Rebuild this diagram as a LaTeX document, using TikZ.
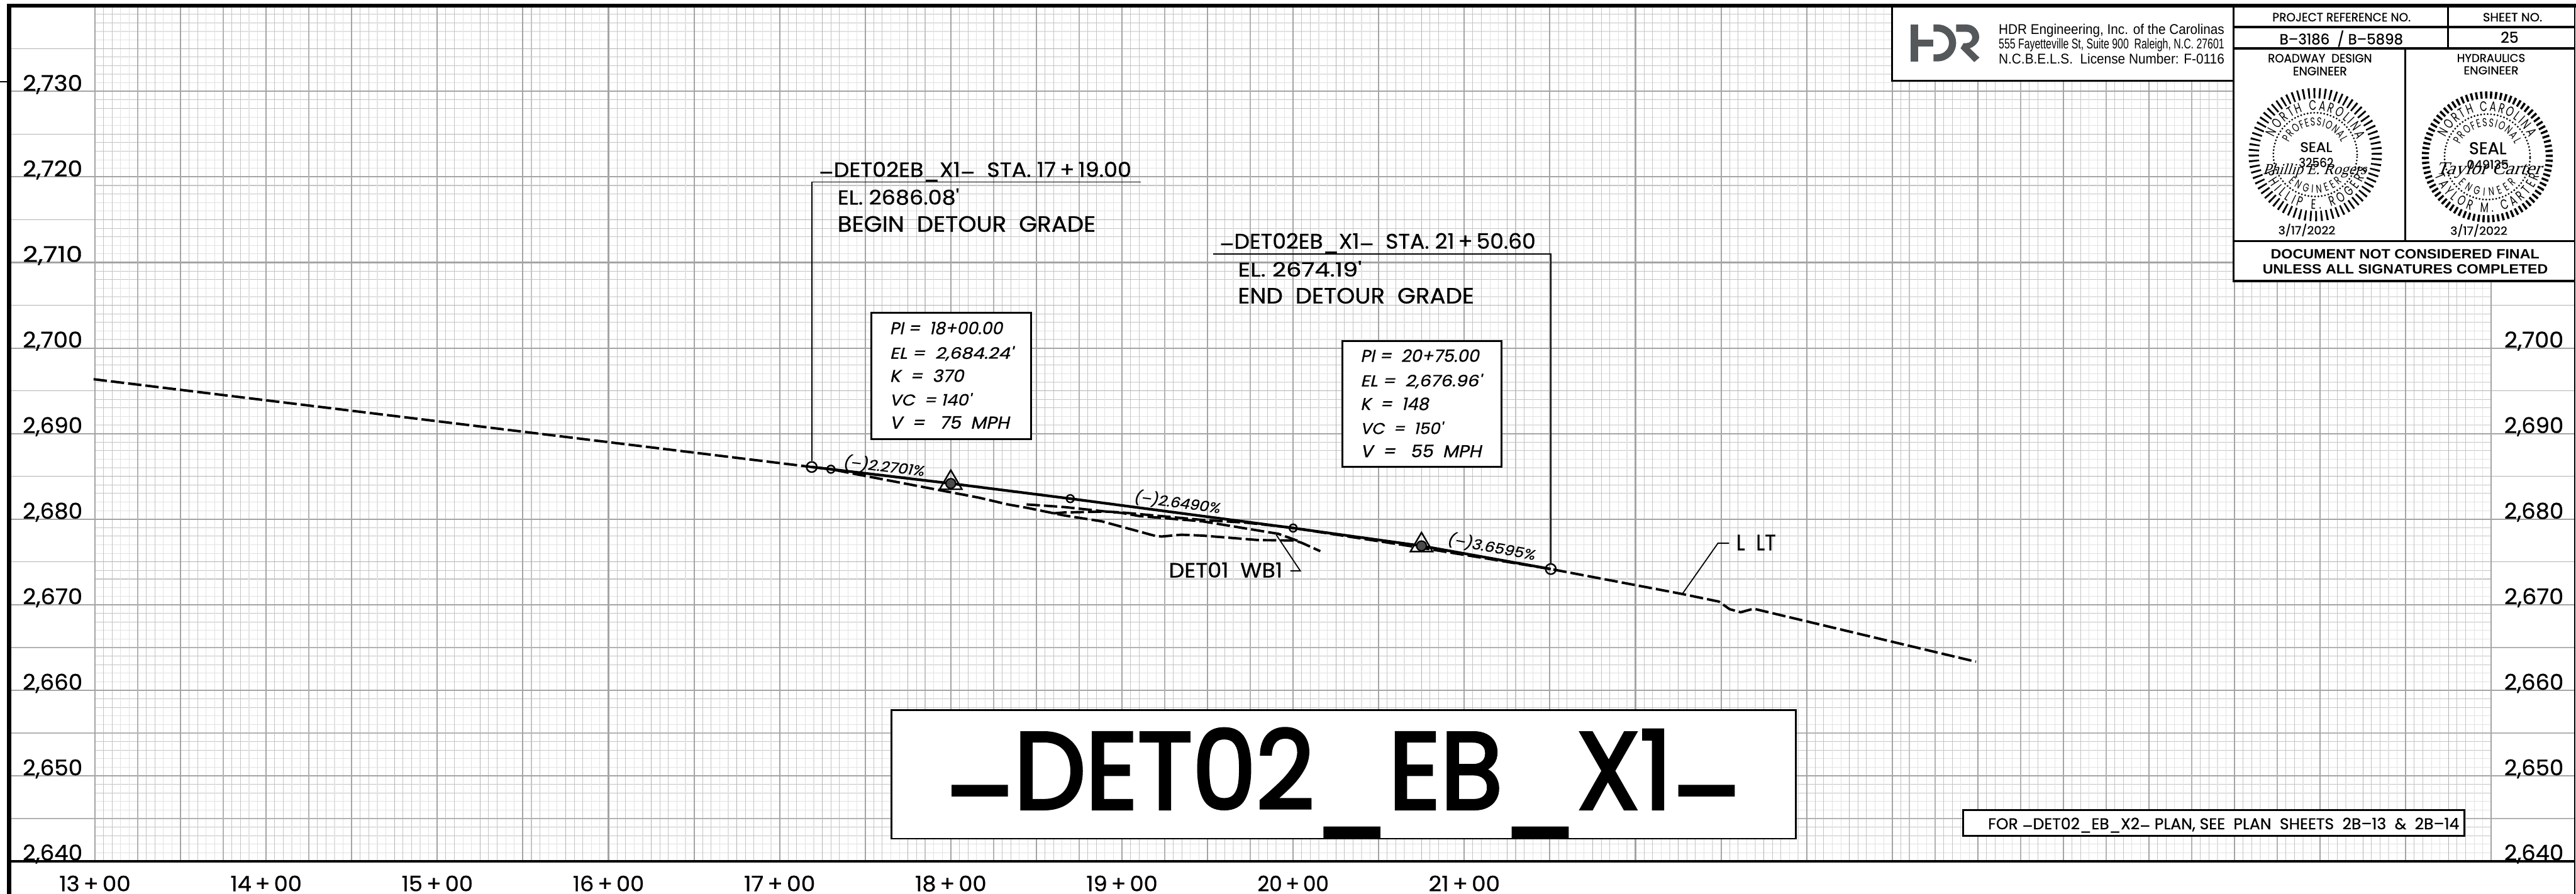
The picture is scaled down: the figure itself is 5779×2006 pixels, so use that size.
\documentclass[tikz,border=0pt]{standalone}
\usepackage{fontspec}
\usepackage{graphicx}
\usetikzlibrary{decorations.text}
\newfontfamily\pop[FakeBold=0.7]{Poppins}
\newfontfamily\popt[FakeBold=3]{Poppins}
\newfontfamily\popn[FakeStretch=0.7]{Poppins}
\newfontfamily\pit[FakeSlant=0.2,FakeBold=0.7]{Poppins}
\newfontfamily\ls{Liberation Sans}
\newfontfamily\sg[FakeSlant=0.35]{Liberation Serif}
\newdimen\pxu \pxu=0.1mm
\newcommand\Tt[3]{\resizebox{#1\pxu}{#2\pxu}{\pop #3}}
\newcommand\Ti[3]{\resizebox{#1\pxu}{#2\pxu}{\pit #3}}
\newcommand\Tl[3]{\resizebox{#1\pxu}{#2\pxu}{\ls #3}}
\newcommand\Tb[3]{\resizebox{#1\pxu}{#2\pxu}{\ls\bfseries #3}}
\newcommand\Ts[3]{\resizebox{#1\pxu}{#2\pxu}{\sg #3}}
\newcommand\Tm[3]{\resizebox{#1\pxu}{#2\pxu}{\popt #3}}
\newcommand\dsh{\raisebox{-.16em}{–}}
\newcommand\usc{\raisebox{-.1em}{\_}}
\definecolor{gmaj}{HTML}{A4A4A4}
\definecolor{gmed}{HTML}{B2B2B2}
\definecolor{gmid}{HTML}{C4C4C4}
\definecolor{glight}{HTML}{E2E2E2}
\definecolor{logo}{HTML}{55585A}
\tikzset{
  tx/.style={anchor=base west,inner sep=0pt,outer sep=0pt},
  tc/.style={anchor=center,inner sep=0pt,outer sep=0pt},
  lmin/.style={color=glight,line width=.17mm},
  mmin/.style={color=gmid,line width=.15mm},
  mmed/.style={color=gmed,line width=.2mm},
  mmaj/.style={color=gmaj,line width=.3mm},
  frame/.style={line width=.4mm,draw=black,fill=white},
  lead/.style={line width=.25mm,draw=black},
  grade/.style={line width=.6mm,draw=black},
  ground/.style={line width=.55mm,draw=black,dash pattern=on 3mm off .9mm},
  ringa/.style={circle,draw=black,line width=.35mm,inner sep=0pt,minimum size=2.3mm},
  ringb/.style={circle,draw=black,line width=.35mm,inner sep=0pt,minimum size=1.7mm},
  panel/.style={line width=.5mm,draw=black},
  sealtxt/.style={decorate,decoration={text along path,text={#1},text align={fit to path}}},
}
\newcommand\SF{\popn\fontsize{3.1mm}{3.6mm}\selectfont}
\newcommand\SG{\popn\fontsize{2.6mm}{3.2mm}\selectfont}
\begin{document}
\begin{tikzpicture}[x=.1mm,y=.1mm]
\useasboundingbox (0,0) rectangle (5779,-2006);
\fill[white] (0,0) rectangle (5779,-2006);
% grid: minor
\foreach \m in {1,...,99}{
  \pgfmathtruncatemacro\r{mod(\m,5)}
  \pgfmathsetmacro\yy{-(13+19.2*\m)}
  \ifnum\r=1 \draw[mmin] (213,\yy) -- (5589,\yy);\fi
  \ifnum\r=2 \draw[mmin] (213,\yy) -- (5589,\yy);\fi
  \ifnum\r=3 \draw[lmin] (213,\yy) -- (5589,\yy);\fi
  \ifnum\r=4 \draw[lmin] (213,\yy) -- (5589,\yy);\fi
}
\foreach \n in {1,...,279}{
  \pgfmathtruncatemacro\r{mod(\n,5)}
  \pgfmathsetmacro\xx{213+19.2*\n}
  \ifnum\r=1 \draw[mmin] (\xx,-17) -- (\xx,-1932);\fi
  \ifnum\r=2 \draw[mmin] (\xx,-17) -- (\xx,-1932);\fi
  \ifnum\r=3 \draw[lmin] (\xx,-17) -- (\xx,-1932);\fi
  \ifnum\r=4 \draw[lmin] (\xx,-17) -- (\xx,-1932);\fi
}
% grid: major
\foreach \m in {1,...,19}{
  \pgfmathsetmacro\yy{-(13+96*\m)}
  \pgfmathtruncatemacro\r{mod(\m,2)}
  \ifnum\r=0 \draw[mmaj] (26,\yy) -- (5776,\yy);\else \draw[mmed] (26,\yy) -- (5776,\yy);\fi
}
\foreach \n in {0,...,56}{
  \pgfmathsetmacro\xx{213+96*\n}
  \pgfmathtruncatemacro\r{mod(\n,2)}
  \ifnum\r=0 \draw[mmaj] (\xx,-17) -- (\xx,-1932);\else \draw[mmed] (\xx,-17) -- (\xx,-1932);\fi
}
% sheet frame
\fill[black] (16,-8) rectangle (5779,-17);
\fill[black] (16,-8) rectangle (26,-2006);
\fill[black] (16,-1930) rectangle (5776,-1935);
\fill[black] (5775,-8) rectangle (5778,-2006);
\fill[black] (0,-181.5) rectangle (16,-184.5);
% elevation labels
\foreach \v/\y in {730/204,720/396,710/588,700/780,690/972,680/1164,670/1356,660/1548,650/1740,640/1931}{
  \node[tx] (left\v) at (51,-\y) {\Tt{134}{36}{2,\v}};
}
\foreach \v/\y in {700/780,690/972,680/1164,670/1356,660/1548,650/1740,640/1931}{
  \node[tx] (right\v) at (5618,-\y) {\Tt{133}{36}{2,\v}};
}
% station labels
\foreach \s/\x in {13/213,14/597,15/981,16/1365,17/1749,18/2133,19/2517,20/2901,21/3285}{
  \node[anchor=base,inner sep=0pt] (sta\s) at (\x,-2000) {\Tt{160}{35}{\s\,+\,00}};
}
% named points
\coordinate (bvc) at (1821,-1048);
\coordinate (pc) at (1864,-1053);
\coordinate (pvione) at (2133,-1085);
\coordinate (cpa) at (2401,-1119);
\coordinate (cpb) at (2901,-1185);
\coordinate (pvitwo) at (3189,-1225);
\coordinate (evc) at (3479,-1277);
\coordinate (gstart) at (210,-851);
\coordinate (gend) at (4433,-1485);
\coordinate (ltfoot) at (3774,-1333);
\coordinate (wbfoot) at (2863,-1200);
% ground lines
\draw[ground] (2303,-1132) -- (2389,-1138) -- (2481,-1148) -- (2516,-1151) -- (2555,-1158) -- (2698,-1170) -- (2868,-1198) -- (2912,-1214);
\draw[ground] (gstart) -- (bvc) -- (pc) -- (1930,-1066) -- (2108,-1100) -- (2197,-1117) -- (2261,-1132) -- (2306,-1140) -- (2389,-1157) -- (2472,-1170) -- (2593,-1203) -- (2606,-1204) -- (2650,-1200) -- (2698,-1202) -- (2823,-1212) -- (2904,-1213) -- (2920,-1218) -- (2962,-1237);
\draw[ground] (2363,-1152) -- (2388,-1150) -- (2481,-1148) -- (2516,-1150) -- (2700,-1167) -- (2796,-1173) -- (2895,-1184) -- (3180,-1228) -- (evc) -- (ltfoot) -- (3856,-1350) -- (3880,-1367) -- (3905,-1374) -- (3934,-1366) -- (gend);
% proposed grade
\draw[grade] (bvc) -- (pc) -- (pvione) -- (cpa) -- (cpb) -- (pvitwo) -- (evc);
% point markers
\node[ringa] (mbvc) at (bvc) {};
\node[ringb] (mpc) at (pc) {};
\node[ringb] (mcpa) at (cpa) {};
\node[ringb] (mcpb) at (cpb) {};
\node[ringa] (mevc) at (evc) {};
\foreach \p/\nm in {pvione/a,pvitwo/b}{
  \node[circle,draw=black,line width=.3mm,inner sep=0pt,minimum size=2.2mm,fill=black!70] (bull\nm) at (\p) {};
}
\draw[line width=.35mm] (2133,-1055) -- (2108,-1098) -- (2158,-1098) -- cycle;
\draw[line width=.35mm] (3189,-1195) -- (3164,-1238) -- (3214,-1238) -- cycle;
% grade labels
\node[tc,rotate=-6.5] (gra) at (1982,-1046) {\Ti{183}{30}{(–)2.2701\%}};
\node[tc,rotate=-7.5] (grb) at (2640,-1127) {\Ti{195}{30}{(–)2.6490\%}};
\node[tc,rotate=-10.4] (grc) at (3345,-1227) {\Ti{200}{30}{(–)3.6595\%}};
% callout 1
\coordinate (caa) at (1821,-408.5);
\coordinate (cab) at (2560,-408.5);
\draw[lead] (mbvc) -- (caa) -- (cab);
\node[tx] (ca1) at (1837,-397) {\Tt{701}{34}{\dsh DET02EB\usc X1\dsh\ \ STA. 17\,+\,19.00}};
\node[tx] (ca2) at (1879,-459) {\Tt{273}{36}{EL. 2686.08'}};
\node[tx] (ca3) at (1879,-520) {\Tt{579}{35}{BEGIN\ \ DETOUR\ \ GRADE}};
% callout 2
\coordinate (cba) at (2721,-570.5);
\coordinate (cbb) at (3479,-570.5);
\draw[lead] (mevc) -- (cbb) -- (cba);
\node[tx] (cb1) at (2736,-558) {\Tt{709}{35}{\dsh DET02EB\usc X1\dsh\ \ STA. 21\,+\,50.60}};
\node[tx] (cb2) at (2777,-620.5) {\Tt{278}{35}{EL. 2674.19'}};
\node[tx] (cb3) at (2777,-681) {\Tt{530}{35}{END\ \ DETOUR\ \ GRADE}};
% PI boxes
\draw[frame] (1955,-702) rectangle (2313,-985);
\node[tx] (pa1) at (1996,-750) {\Ti{253}{28}{PI =\ \ 18+00.00}};
\node[tx] (pa2) at (1996,-805) {\Ti{276}{28}{EL =\ \ 2,684.24'}};
\node[tx] (pa3) at (1996,-857) {\Ti{166}{28}{K\ \ =\ \ 370}};
\node[tx] (pa4) at (1996,-910) {\Ti{182}{28}{VC\ \ =\ 140'}};
\node[tx] (pa5) at (1996,-962) {\Ti{268}{28}{V\ \ =\ \ \ 75\ \ MPH}};
\draw[frame] (3011,-765) rectangle (3369,-1047);
\node[tx] (pb1) at (3052,-812) {\Ti{266}{28}{PI =\ \ 20+75.00}};
\node[tx] (pb2) at (3052,-867) {\Ti{271}{28}{EL =\ \ 2,676.96'}};
\node[tx] (pb3) at (3052,-920) {\Ti{153}{28}{K\ \ =\ \ 148}};
\node[tx] (pb4) at (3052,-974) {\Ti{184}{28}{VC\ \ =\ \ 150'}};
\node[tx] (pb5) at (3052,-1026) {\Ti{271}{28}{V\ \ =\ \ \ 55\ \ MPH}};
% leaders
\node[tx] (wb) at (2622,-1296) {\Tt{255}{34}{DET01\ \ WB1}};
\coordinate (wbk) at (2895,-1281);
\coordinate (wbe) at (2917,-1281);
\draw[lead] (wbfoot) -- (wbe) -- (wbk);
\node[tx] (lt) at (3895,-1235) {\Tt{89}{35}{L\ \ LT}};
\coordinate (ltk) at (3854,-1219);
\coordinate (lte) at (3879,-1219);
\draw[lead] (ltfoot) -- (ltk) -- (lte);
% main title
\draw[frame] (2000,-1594) rectangle (4029,-1882);
\node[tx] (title) at (2121,-1815) {\Tm{1784}{180}{\raisebox{-.2em}{–}DET02\raisebox{-.14em}{\_}EB\raisebox{-.14em}{\_}X1\raisebox{-.2em}{–}}};
% note
\draw[frame] (4404,-1818) rectangle (5529,-1876);
\node[tx] (note) at (4460,-1861) {\Tt{1057}{26}{FOR \dsh DET02\usc EB\usc X2\dsh\ PLAN, SEE\ \ PLAN\ \ SHEETS\ \ 2B–13\ \ \&\ \ 2B–14}};
% HDR block
\draw[frame] (4245,-15) rectangle (5011,-181);
\fill[logo] (4286,-55) rectangle (4302.7,-137.7);
\fill[logo] (4302,-88.3) rectangle (4337.7,-104.3);
\fill[logo] (4337.7,-55) -- (4347,-55) .. controls (4369.8,-55) and (4388.3,-73.5) .. (4388.3,-96.3) .. controls (4388.3,-119.1) and (4369.8,-137.7) .. (4347,-137.7) -- (4337.7,-137.7) -- (4337.7,-121.7) -- (4347,-121.7) .. controls (4361,-121.7) and (4372.3,-110.3) .. (4372.3,-96.3) .. controls (4372.3,-82.3) and (4361,-71) .. (4347,-71) -- (4337.7,-71) -- cycle;
\fill[logo] (4388.3,-55) -- (4411.7,-55) .. controls (4427.3,-55) and (4440,-67.7) .. (4440,-83.3) .. controls (4440,-94) and (4431,-104) .. (4419,-108.3) -- (4440.7,-129.3) -- (4429,-139.3) -- (4398.3,-108.3) -- (4405,-96.7) -- (4411.7,-96.7) .. controls (4418.7,-96.7) and (4424.4,-91) .. (4424.4,-84) .. controls (4424.4,-77) and (4418.7,-71.3) .. (4411.7,-71.3) -- (4388.3,-71.3) -- cycle;
\node[tx] (hd1) at (4484,-77) {\Tl{506}{23}{HDR Engineering, Inc. of the Carolinas}};
\node[tx] (hd2) at (4484,-110) {\Tl{506}{23}{555 Fayetteville St, Suite 900\ \ Raleigh, N.C. 27601}};
\node[tx] (hd3) at (4484,-143) {\Tl{506}{23}{N.C.B.E.L.S.\ \ License Number: F-0116}};
% title panel
\fill[white] (5011,-17) rectangle (5775,-631);
\draw[panel] (5011,-15) -- (5011,-633);
\draw[panel] (5011,-61) -- (5776,-61);
\draw[panel] (5011,-109) -- (5776,-109);
\draw[panel] (5492,-17) -- (5492,-109);
\draw[panel] (5396,-109) -- (5396,-541);
\draw[panel] (5011,-541) -- (5776,-541);
\draw[panel] (5011,-631) -- (5776,-631);
\node[tx] (pr1) at (5098,-48) {\Tt{310}{19}{PROJECT\ REFERENCE\ NO.}};
\node[tx] (pr2) at (5570,-48) {\Tt{133}{19}{SHEET\ NO.}};
\node[tx] (pr3) at (5114,-99.5) {\Tt{277}{31}{B–3186\ \ /\ B–5898}};
\node[tx] (pr4) at (5610,-96) {\Tt{40}{25}{25}};
\node[tx] (en1) at (5088,-140) {\Tt{233}{19}{ROADWAY\ \ DESIGN}};
\node[tx] (en2) at (5144,-169) {\Tt{121}{19}{ENGINEER}};
\node[tx] (en3) at (5512,-139) {\Tt{153}{18}{HYDRAULICS}};
\node[tx] (en4) at (5527,-167) {\Tt{123}{18}{ENGINEER}};
% seal 1
\begin{scope}[shift={(5194,-347)}]
  \draw[line width=2.3mm,dash pattern=on .4mm off .8043mm] (0,0) circle (138);
  \draw[line width=.45mm,line cap=round,dash pattern=on 0mm off .75mm] (0,0) circle (94);
  \path[sealtxt={|\SF|NORTH CAROLINA}] (157:100) arc (157:20:100);
  \path[sealtxt={|\SF|PHILLIP E. ROGERS}] (200:122) arc (200:345:122);
  \path[sealtxt={|\SG|PROFESSIONAL}] (155:65) arc (155:25:65);
  \path[sealtxt={|\SG|ENGINEER}] (225:86) arc (225:315:86);
\end{scope}
\node[tx] (s1a) at (5160,-341) {\Tt{72}{22}{SEAL}};
\node[tx] (s1b) at (5157,-375) {\Tt{78}{21}{32562}};
\node[tx] (s1c) at (5076,-392) {\Ts{232}{24}{Phillip E. Rogers}};
\node[tx] (s1d) at (5111,-526) {\Tt{128}{24}{3/17/2022}};
% seal 2
\begin{scope}[shift={(5580,-352)}]
  \draw[line width=1.6mm,dash pattern=on .5mm off .5917mm] (0,0) circle (139);
  \draw[line width=.45mm,line cap=round,dash pattern=on 0mm off .75mm] (0,0) circle (96);
  \path[sealtxt={|\SF|NORTH CAROLINA}] (155:103) arc (155:25:103);
  \path[sealtxt={|\SF|TAYLOR M. CARTER}] (200:125) arc (200:340:125);
  \path[sealtxt={|\SG|PROFESSIONAL}] (155:68) arc (155:25:68);
  \path[sealtxt={|\SG|ENGINEER}] (222:88) arc (222:318:88);
\end{scope}
\node[tx] (s2a) at (5539,-346) {\Tt{84}{27}{SEAL}};
\node[tx] (s2b) at (5534,-379) {\Tt{94}{20}{049135}};
\node[tx] (s2c) at (5464,-392) {\Ts{236}{28}{Taylor Carter}};
\node[tx] (s2d) at (5497,-527) {\Tt{128}{24}{3/17/2022}};
% disclaimer
\node[tx] (dc1) at (5094,-581) {\Tb{603}{21}{DOCUMENT NOT CONSIDERED FINAL}};
\node[tx] (dc2) at (5076,-614.5) {\Tb{640}{21}{UNLESS ALL SIGNATURES COMPLETED}};
\end{tikzpicture}
\end{document}
